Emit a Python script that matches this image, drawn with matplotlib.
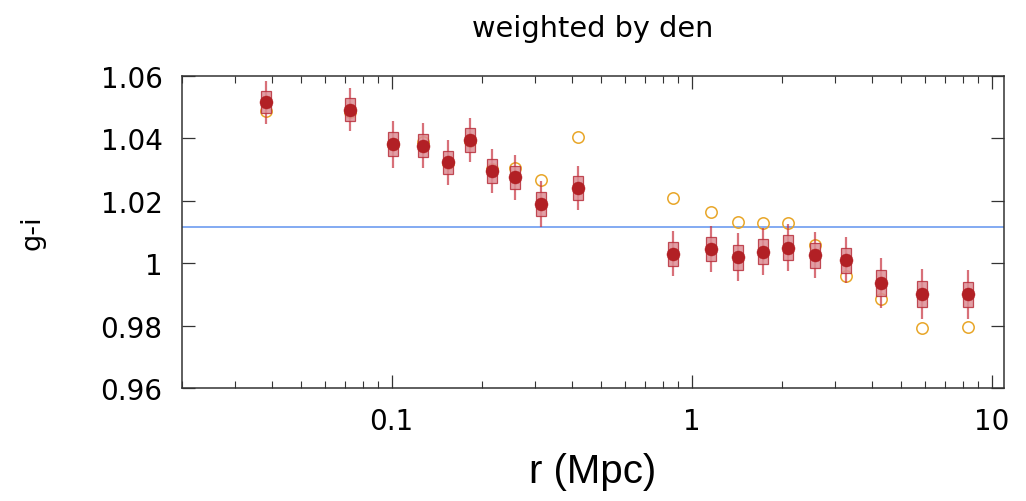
import numpy as np
import matplotlib
matplotlib.use('Agg')
import matplotlib.pyplot as plt
from matplotlib.ticker import FixedLocator, FuncFormatter, NullFormatter

r = [0.0381, 0.0726, 0.101, 0.127, 0.154, 0.182, 0.216, 0.258, 0.315, 0.418,
     0.867, 1.16, 1.43, 1.73, 2.09, 2.58, 3.27, 4.27, 5.87, 8.34]
gi_den = [1.0516, 1.0492, 1.0381, 1.0377, 1.0323, 1.0395, 1.0295, 1.0275, 1.0189, 1.0242,
          1.0030, 1.0046, 1.0019, 1.0037, 1.0050, 1.0026, 1.0010, 0.9937, 0.9902, 0.9900]
err_den = [0.0069, 0.0068, 0.0075, 0.0073, 0.0072, 0.0070, 0.0070, 0.0072, 0.0073, 0.0071,
           0.0072, 0.0074, 0.0077, 0.0076, 0.0075, 0.0075, 0.0075, 0.0080, 0.0080, 0.0079]
box_den = [0.0020, 0.0020, 0.0022, 0.0022, 0.0022, 0.0021, 0.0022, 0.0022, 0.0023, 0.0022,
           0.0023, 0.0023, 0.0024, 0.0024, 0.0023, 0.0024, 0.0024, 0.0025, 0.0025, 0.0025]
gi_raw = [1.0489, 1.0484, 1.0383, 1.0388, 1.0322, 1.0393, 1.0303, 1.0304, 1.0268, 1.0405,
          1.0209, 1.0165, 1.0132, 1.0128, 1.0130, 1.0058, 0.9958, 0.9885, 0.9791, 0.9797]
gi_media = 1.0115

x_ticks = [0.1, 1, 10]
y_ticks = [0.96, 0.98, 1.0, 1.02, 1.04, 1.06]

r = np.array(r)
gi_den = np.array(gi_den)
err_den = np.array(err_den)
box_den = np.array(box_den)

plt.rcParams['font.family'] = 'DejaVu Sans'

fig = plt.figure(figsize=(10.26, 5.02), dpi=100)
ax = fig.add_axes([0.1774, 0.2251, 0.8012, 0.6215])

ax.axhline(gi_media, color='#6d9cf0', lw=1.2, zorder=1)

ax.plot(r, gi_raw, 'o', ms=8.2, mfc='none', mec='#e8a628', mew=1.1, zorder=2)

ax.errorbar(r, gi_den, yerr=err_den, fmt='none', ecolor='#c83440', elinewidth=1.6,
            alpha=0.7, zorder=3)
for signo in (1, -1):
    ax.plot(r, gi_den + signo * box_den, 's', ms=6.6, mfc='#dc8e95', mec='#b8303c',
            mew=0.9, alpha=0.85, zorder=4)
ax.plot(r, gi_den, 'o', ms=9.4, mfc='#b22025', mec='#b22025', mew=0.3, zorder=5)

ax.set_xscale('log')
ax.set_xlim(0.02, 11)
ax.set_ylim(0.96, 1.06)

ax.xaxis.set_major_locator(FixedLocator(x_ticks))
ax.xaxis.set_major_formatter(FuncFormatter(lambda v, p: '%g' % v))
subs = [m * 10.0 ** e for e in (-2, -1, 0) for m in range(2, 10)]
ax.xaxis.set_minor_locator(FixedLocator(subs))
ax.xaxis.set_minor_formatter(NullFormatter())
ax.yaxis.set_major_locator(FixedLocator(y_ticks))
ax.yaxis.set_major_formatter(FuncFormatter(lambda v, p: '%g' % v))

ax.tick_params(which='both', direction='in', top=True, right=True,
               labelsize=20, pad=14, color='#333333')
ax.tick_params(which='major', length=9.7, width=0.9)
ax.tick_params(which='minor', length=5, width=0.8)
for lado in ax.spines.values():
    lado.set_linewidth(1.1)
    lado.set_color('#333333')

ax.set_title('weighted by den', fontsize=20.7, pad=29)
ax.set_ylabel('g-i', fontsize=19.5, labelpad=40)
ax.set_xlabel('r (Mpc)', fontsize=29, family='Liberation Sans', labelpad=12)

fig.savefig('out.png', dpi=100)
